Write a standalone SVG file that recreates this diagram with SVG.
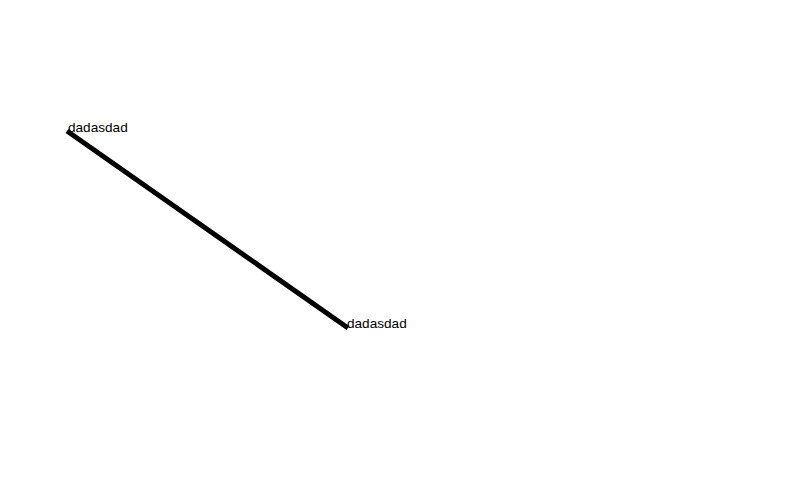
<svg xmlns="http://www.w3.org/2000/svg" width="812" height="489" viewBox="0 0 812 489">
<style>
.lbl{font-family:"Liberation Sans",Arial,sans-serif;font-size:13.6px;fill:#000}
.edge{stroke:#000;stroke-width:5;fill:none}
</style>
<rect width="812" height="489" fill="#fff"/>
<g id="connectors">
<line class="edge" x1="67" y1="131" x2="348" y2="328"/>
</g>
<g id="node-a"><text class="lbl" x="68" y="132">dadasdad</text></g>
<g id="node-b"><text class="lbl" x="347" y="328">dadasdad</text></g>
</svg>
